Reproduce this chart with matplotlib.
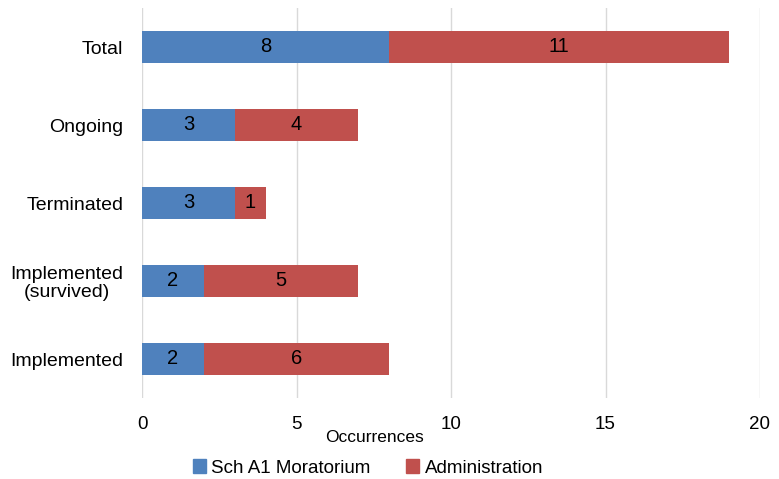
import numpy as np
import matplotlib.pyplot as plt
from matplotlib.patches import Patch

plt.rcParams['font.family'] = ['Liberation Sans', 'DejaVu Sans']

categories = ['Implemented', 'Implemented\n(survived)', 'Terminated', 'Ongoing', 'Total']
moratorium = [2, 2, 3, 3, 8]
administration = [6, 5, 1, 4, 11]
series_names = ['Sch A1 Moratorium', 'Administration']
colors = ['#4F81BD', '#C0504D']

fig = plt.figure(figsize=(7.79, 4.79), dpi=100)
ax = fig.add_axes([142 / 779, 1 - 398 / 479, 618 / 779, 390 / 479])

y = np.arange(len(categories))
h = 0.41
b1 = ax.barh(y, moratorium, height=h, color=colors[0], zorder=3)
b2 = ax.barh(y, administration, left=moratorium, height=h, color=colors[1], zorder=3)

for bars in (b1, b2):
    for r in bars:
        ax.text(r.get_x() + r.get_width() / 2, r.get_y() + r.get_height() / 2,
                str(int(r.get_width())), ha='center', va='center',
                fontsize=14.5, color='black', zorder=4)

ax.set_xlim(0, 20)
ax.set_ylim(-0.5, len(categories) - 0.5)
ax.set_xticks([0, 5, 10, 15, 20])
ax.set_yticks(y)
ax.set_yticklabels(categories, multialignment='center', linespacing=1.05)
ax.tick_params(axis='y', length=0, pad=13.5, labelsize=14)
ax.tick_params(axis='x', length=0, pad=13, labelsize=13.5)
ax.grid(axis='x', color='#d9d9d9', linewidth=1, zorder=0)
for s in ax.spines.values():
    s.set_visible(False)

fig.text(374 / 779, 1 - 438 / 479, 'Occurrences', ha='center', va='center', fontsize=12.5)

handles = [Patch(color=c, label=n) for c, n in zip(colors, series_names)]
fig.legend(handles=handles, loc='center', bbox_to_anchor=(368 / 779, 1 - 468 / 479),
           ncol=2, frameon=False, fontsize=13.5, handlelength=0.7, handleheight=0.7,
           handletextpad=0.3, columnspacing=1.9)

fig.savefig('out.png', dpi=100)
